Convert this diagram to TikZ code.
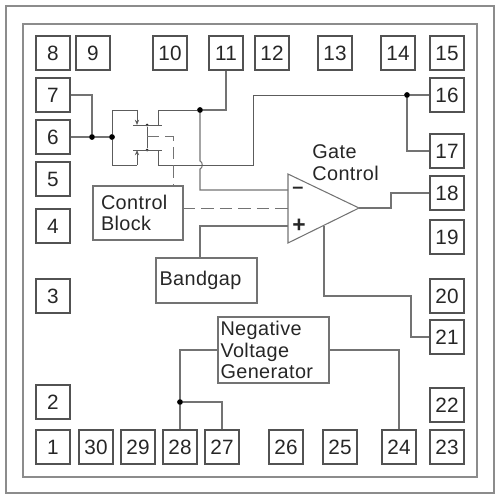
\documentclass[tikz,border=0pt]{standalone}
\usepackage{fontspec}
\setmainfont[LetterSpace=2]{Liberation Sans}
\usepackage{xcolor}
\usetikzlibrary{arrows.meta,positioning}
\definecolor{framegray}{gray}{.55}
\definecolor{wiregray}{gray}{.45}
\definecolor{inkgray}{gray}{.15}

\begin{document}
\begin{tikzpicture}[x=.02cm,y=-.02cm,font=\fontsize{11.3}{12.3}\selectfont,text=inkgray,
frame/.style={draw=framegray,line width=.8pt},
pin/.style={draw=inkgray!80,line width=.75pt,minimum size=.68cm,inner sep=0pt,font=\fontsize{11.8}{12.3}\selectfont},
blockbox/.style={draw=wiregray,line width=.6pt,align=left,inner ysep=0pt,inner xsep=0pt},
wire/.style={draw=wiregray,line width=.6pt},
fet/.style={draw=wiregray!80!black,line width=.55pt},
ctrl/.style={draw=wiregray,line width=.5pt,dash pattern=on 7pt off 3.5pt},
dot/.style={circle,fill=black,inner sep=0pt,minimum size=.115cm},
smalldot/.style={circle,fill=inkgray,inner sep=0pt,minimum size=.06cm}]
\useasboundingbox (0,0) rectangle (500,500);
\coordinate (oa) at (6,6);\coordinate (ob) at (494,493);
\coordinate (ia) at (23,24);\coordinate (ib) at (477,477);
\draw[frame] (oa) rectangle (ob);
\draw[frame] (ia) rectangle (ib);
% pins
\node[pin] (p8) at (53,53) {8};
\node[pin] (p9) at (93,53) {9};
\node[pin] (p10) at (170,53) {10};
\node[pin] (p11) at (226,53) {11};
\node[pin] (p12) at (272,53) {12};
\node[pin] (p13) at (335,53) {13};
\node[pin] (p14) at (398,53) {14};
\node[pin] (p15) at (447,53) {15};
\node[pin] (p7) at (53,95) {7};
\node[pin] (p6) at (53,137) {6};
\node[pin] (p5) at (53,179) {5};
\node[pin] (p4) at (53,226) {4};
\node[pin] (p3) at (53,296) {3};
\node[pin] (p2) at (53,402) {2};
\node[pin] (p1) at (53,447) {1};
\node[pin] (p30) at (96,447) {30};
\node[pin] (p29) at (138,447) {29};
\node[pin] (p28) at (180,447) {28};
\node[pin] (p27) at (222,447) {27};
\node[pin] (p26) at (286,447) {26};
\node[pin] (p25) at (340,447) {25};
\node[pin] (p24) at (399,447) {24};
\node[pin] (p23) at (447,447) {23};
\node[pin] (p22) at (447,405) {22};
\node[pin] (p21) at (447,337) {21};
\node[pin] (p20) at (447,296) {20};
\node[pin] (p19) at (447,237) {19};
\node[pin] (p18) at (447,193) {18};
\node[pin] (p17) at (447,151) {17};
\node[pin] (p16) at (447,95) {16};
% blocks
\node[blockbox,minimum width=1.8cm,minimum height=1.08cm,text width=1.48cm] (cb) at (138,213) {Control\\Block};
\node[blockbox,minimum width=2.02cm,minimum height=.9cm,text width=1.88cm] (bg) at (206.5,280.5) {Bandgap};
\node[blockbox,minimum width=2.22cm,minimum height=1.32cm,text width=2.12cm] (nvg) at (273.5,350) {Negative\\Voltage\\Generator};
\node[align=left,anchor=north west,inner sep=0pt] (gatelbl) at (312,144) {Gate\\[.6pt]Control};
% amplifier
\coordinate (ampa) at (288,174);\coordinate (ampb) at (288,243);\coordinate (ampo) at (359,208);
\draw[wire] (ampa)--(ampo)--(ampb)--cycle;
\node (minus) at (298,190) {\bfseries\char"2013};
\node (plus) at (299,226) {\fontsize{13}{13}\selectfont\bfseries +};
\coordinate (inm) at (288,190);\coordinate (ind) at (288,208);\coordinate (inp) at (288,226);
\coordinate (ampt) at (324,226);
% junctions
\node[dot] (j7) at (92,137) {};
\node[dot] (j6) at (112,137) {};
\node[dot] (j11) at (200,110) {};
\node[dot] (j16) at (407,95) {};
\node[dot] (j28) at (180,402) {};
% fets
\coordinate (ga) at (133,125);\coordinate (gb) at (162,125);
\coordinate (gc) at (133,150);\coordinate (gd) at (162,150);
\node[smalldot] (na) at (147,125) {};
\node[smalldot] (nb) at (147,150) {};
\coordinate (mid) at (147,136);
\coordinate (sa) at (137,125);\coordinate (sb) at (137,150);
\coordinate (da) at (158,125);\coordinate (db) at (158,150);
\coordinate (ra) at (112,110);\coordinate (rb) at (112,165);
\coordinate (rc) at (137,110);\coordinate (rd) at (137,165);
\draw[fet] (ga)--(gb);\draw[fet] (gc)--(gd);\draw[fet] (na)--(nb);
\draw[fet] (j6)--(ra)--(rc);\draw[fet] (j6)--(rb)--(rd);
\draw[fet,-{Stealth[length=3pt,width=2.4pt]}] (rc)--(sa);
\draw[fet,-{Stealth[length=3pt,width=2.4pt]}] (rd)--(sb);
% wires
\draw[wire] (p6)--(j7);\draw[wire] (j7)--(j6);
\draw[wire] (p7) -| (j7);
\coordinate (hopa) at (200,161);\coordinate (hopb) at (200,169);
\coordinate (ca) at (158,110);\coordinate (cb16) at (158,165);\coordinate (tt) at (253,95);\coordinate (ts) at (253,165);
\draw[fet] (da)--(ca)--(j11);
\draw[wire] (p11) |- (j11);
\draw[wire] (j11)--(hopa) .. controls (203,162) and (203,168) .. (hopb)--(200,190)--(inm);
\draw[fet] (db)--(cb16)--(ts)--(tt)--(j16);
\draw[wire] (j16)--(p16);
\draw[wire] (j16) |- (p17);
\coordinate (outa) at (391,208);\coordinate (outb) at (391,193);
\draw[wire] (ampo)--(outa)--(outb)--(p18);
\coordinate (bgt) at (200,258);\coordinate (bgc) at (200,226);
\draw[wire] (bgt)--(bgc)--(inp);
\coordinate (ampd) at (324,296);\coordinate (ampe) at (411,296);\coordinate (ampf) at (411,337);
\draw[wire] (ampt)--(ampd)--(ampe)--(ampf)--(p21);
\draw[wire] (nvg.west) -| (j28);
\draw[wire] (j28)--(p28);
\draw[wire] (j28) -| (p27);
\draw[wire] (nvg.east) -| (p24);
% control lines
\coordinate (cbr) at (183,208);\coordinate (cbt) at (173,186);\coordinate (ctl) at (173,136);
\draw[ctrl] (mid)--(ctl)--(cbt);
\draw[ctrl] (cbr)--(ind);
\end{tikzpicture}
\end{document}
